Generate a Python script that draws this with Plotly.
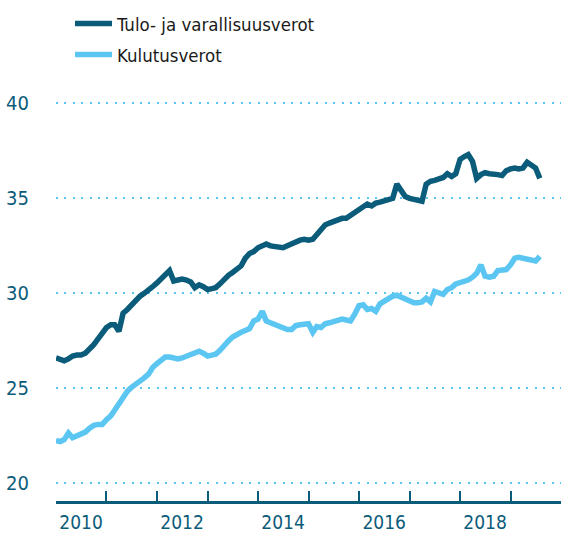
import pandas as pd
import plotly.graph_objects as go

# Monthly observations, January 2010 - August 2019
months = pd.date_range("2010-01-01", periods=116, freq="MS")

tulo_ja_varallisuusverot = [
    26.6, 26.5, 26.45, 26.55, 26.7, 26.75, 26.75, 26.85, 27.05, 27.3, 27.6, 27.95,
    28.2, 28.35, 28.35, 28.0, 28.95, 29.15, 29.4, 29.6, 29.85, 30.0, 30.15, 30.35,
    30.55, 30.75, 30.95, 31.2, 30.65, 30.7, 30.75, 30.7, 30.6, 30.3, 30.45, 30.35,
    30.2, 30.25, 30.3, 30.5, 30.75, 30.95, 31.1, 31.3, 31.45, 31.85, 32.1, 32.2,
    32.4, 32.5, 32.6, 32.5, 32.45, 32.45, 32.4, 32.5, 32.6, 32.75, 32.8, 32.85,
    32.8, 32.85, 33.1, 33.4, 33.6, 33.7, 33.8, 33.9, 33.95, 33.95, 34.1, 34.3,
    34.45, 34.6, 34.7, 34.6, 34.75, 34.8, 34.85, 34.9, 35.0, 35.75, 35.45, 35.1,
    35.0, 34.95, 34.9, 34.85, 35.75, 35.9, 35.95, 36.0, 36.1, 36.3, 36.15, 36.3,
    37.05, 37.2, 37.3, 36.95, 36.05, 36.25, 36.35, 36.3, 36.3, 36.25, 36.2, 36.45,
    36.55, 36.6, 36.55, 36.6, 36.9, 36.7, 36.6, 36.05,
]

kulutusverot = [
    22.25, 22.2, 22.3, 22.65, 22.4, 22.5, 22.55, 22.7, 22.9, 23.05, 23.1, 23.1,
    23.35, 23.55, 23.85, 24.2, 24.5, 24.85, 25.05, 25.2, 25.35, 25.55, 25.75, 26.1,
    26.3, 26.5, 26.65, 26.65, 26.6, 26.55, 26.6, 26.7, 26.8, 26.85, 26.95, 26.85,
    26.7, 26.75, 26.8, 27.0, 27.3, 27.5, 27.7, 27.85, 27.95, 28.05, 28.15, 28.55,
    28.65, 29.05, 28.55, 28.45, 28.35, 28.25, 28.15, 28.1, 28.1, 28.3, 28.35, 28.35,
    28.4, 27.95, 28.25, 28.2, 28.4, 28.45, 28.5, 28.55, 28.65, 28.6, 28.55, 28.9,
    29.35, 29.4, 29.15, 29.2, 29.05, 29.45, 29.6, 29.75, 29.85, 29.9, 29.8, 29.65,
    29.55, 29.5, 29.5, 29.55, 29.75, 29.55, 30.1, 30.05, 29.95, 30.2, 30.3, 30.5,
    30.55, 30.6, 30.7, 30.85, 31.05, 31.5, 30.9, 30.85, 30.9, 31.2, 31.2, 31.25,
    31.5, 31.85, 31.9, 31.85, 31.75, 31.7, 31.7, 31.95,
]

y_ticks = [20, 25, 30, 35, 40]
year_labels = ["2010", "2012", "2014", "2016", "2018"]

DARK = "#0b5b7a"
LIGHT = "#5cc6f2"
FONT = "DejaVu Sans Condensed, Liberation Sans Narrow, sans-serif"
W, H = 561, 534

fig = go.Figure()
fig.add_trace(go.Scatter(
    x=months, y=tulo_ja_varallisuusverot, mode="lines",
    name="Tulo- ja varallisuusverot",
    line=dict(color=DARK, width=5.5),
    legend="legend",
))
fig.add_trace(go.Scatter(
    x=months, y=kulutusverot, mode="lines",
    name="Kulutusverot",
    line=dict(color=LIGHT, width=5.5),
    legend="legend2",
))

label_dates = [f"{y}-07-01" for y in year_labels]


def legend_box(center_px):
    return dict(
        x=70 / W, y=1 - center_px / H, xanchor="left", yanchor="middle",
        xref="container", yref="container",
        bgcolor="rgba(0,0,0,0)", font=dict(size=18.5, color="#1a1a1a"),
        itemwidth=37,
    )


fig.update_layout(
    width=W, height=H,
    margin=dict(l=56, r=0, t=99, b=33, autoexpand=False),
    plot_bgcolor="white", paper_bgcolor="white",
    font=dict(family=FONT, color=DARK, size=20),
    legend=legend_box(24),
    legend2=legend_box(55),
    showlegend=True,
    xaxis=dict(
        type="date",
        range=["2010-01-01", "2020-01-01"],
        tickvals=label_dates, ticktext=year_labels, tickangle=0,
        ticks="inside", ticklen=0, tickcolor="rgba(0,0,0,0)",
        showgrid=False, zeroline=False,
        showline=True, linecolor=DARK, linewidth=2.5,
        minor=dict(ticks="inside", dtick="M12", tick0="2010-01-01",
                   ticklen=10, tickwidth=2, tickcolor=DARK, showgrid=False),
        tickfont=dict(size=19, color=DARK),
        ticklabelstandoff=2,
    ),
    yaxis=dict(
        range=[19.07, 40.23],
        tickvals=y_ticks,
        ticks="", showline=False, zeroline=False,
        showgrid=True, gridcolor=LIGHT, gridwidth=2, griddash="2px,6.4px",
        tickfont=dict(size=20, color=DARK),
        ticklabelstandoff=26,
    ),
)

fig.write_html("out.html")
